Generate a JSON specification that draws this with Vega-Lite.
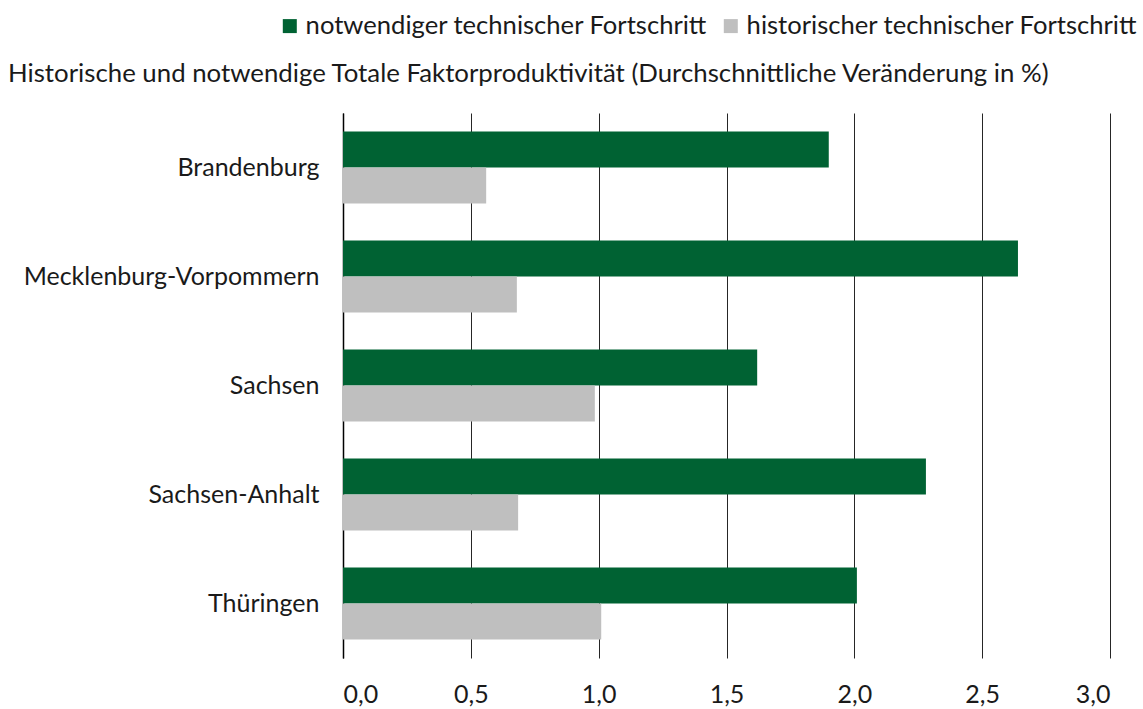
{
  "$schema": "https://vega.github.io/schema/vega-lite/v6.json",
  "autosize": "none",
  "width": 767,
  "height": 545,
  "padding": {"left": 343, "top": 113, "right": 33, "bottom": 51},
  "background": "white",
  "config": {
    "font": "Lato",
    "view": {"stroke": null}
  },
  "title": {
    "text": "Historische und notwendige Totale Faktorproduktivität (Durchschnittliche Veränderung in %)",
    "anchor": "start",
    "frame": "group",
    "dx": -335,
    "dy": 99,
    "offset": 24,
    "fontSize": 25.8,
    "fontWeight": "normal",
    "color": "#1a1a1a",
    "font": "Lato",
    "limit": 1200
  },
  "data": {
    "values": [
      {"land": "Brandenburg", "serie": "notwendiger technischer Fortschritt", "wert": 1.90},
      {"land": "Brandenburg", "serie": "historischer technischer Fortschritt", "wert": 0.56},
      {"land": "Mecklenburg-Vorpommern", "serie": "notwendiger technischer Fortschritt", "wert": 2.64},
      {"land": "Mecklenburg-Vorpommern", "serie": "historischer technischer Fortschritt", "wert": 0.68},
      {"land": "Sachsen", "serie": "notwendiger technischer Fortschritt", "wert": 1.62},
      {"land": "Sachsen", "serie": "historischer technischer Fortschritt", "wert": 0.985},
      {"land": "Sachsen-Anhalt", "serie": "notwendiger technischer Fortschritt", "wert": 2.28},
      {"land": "Sachsen-Anhalt", "serie": "historischer technischer Fortschritt", "wert": 0.685},
      {"land": "Thüringen", "serie": "notwendiger technischer Fortschritt", "wert": 2.01},
      {"land": "Thüringen", "serie": "historischer technischer Fortschritt", "wert": 1.01}
    ]
  },
  "mark": {"type": "bar"},
  "encoding": {
    "y": {
      "field": "land",
      "type": "nominal",
      "sort": ["Brandenburg", "Mecklenburg-Vorpommern", "Sachsen", "Sachsen-Anhalt", "Thüringen"],
      "scale": {"paddingInner": 0.34, "paddingOuter": 0.17},
      "axis": {
        "title": null,
        "ticks": false,
        "domain": true,
        "domainColor": "#000000",
        "domainWidth": 1.5,
        "labelFontSize": 25,
        "labelColor": "#1a1a1a",
        "labelPadding": 24,
        "labelFont": "Lato",
        "labelLimit": 400
      }
    },
    "yOffset": {
      "field": "serie",
      "type": "nominal",
      "sort": ["notwendiger technischer Fortschritt", "historischer technischer Fortschritt"]
    },
    "x": {
      "field": "wert",
      "type": "quantitative",
      "scale": {"domain": [0, 3], "nice": false},
      "axis": {
        "title": null,
        "values": [0, 0.5, 1, 1.5, 2, 2.5, 3],
        "format": ".1f",
        "labelExpr": "replace(datum.label, '.', ',')",
        "ticks": false,
        "domain": false,
        "grid": true,
        "gridColor": "#000000",
        "gridWidth": 1,
        "gridOpacity": 0.85,
        "labelFontSize": 25,
        "labelColor": "#1a1a1a",
        "labelPadding": 24,
        "labelFont": "Lato"
      }
    },
    "color": {
      "field": "serie",
      "type": "nominal",
      "sort": ["notwendiger technischer Fortschritt", "historischer technischer Fortschritt"],
      "scale": {"range": ["#006233", "#bfbfbf"]},
      "legend": {
        "title": null,
        "orient": "none",
        "direction": "horizontal",
        "legendX": -66,
        "legendY": -100,
        "symbolType": "square",
        "symbolSize": 196,
        "symbolStrokeWidth": 0,
        "symbolOpacity": 1,
        "labelFontSize": 25.6,
        "labelColor": "#1a1a1a",
        "labelFont": "Lato",
        "labelOffset": 3,
        "columnPadding": 10,
        "labelLimit": 500
      }
    }
  }
}
